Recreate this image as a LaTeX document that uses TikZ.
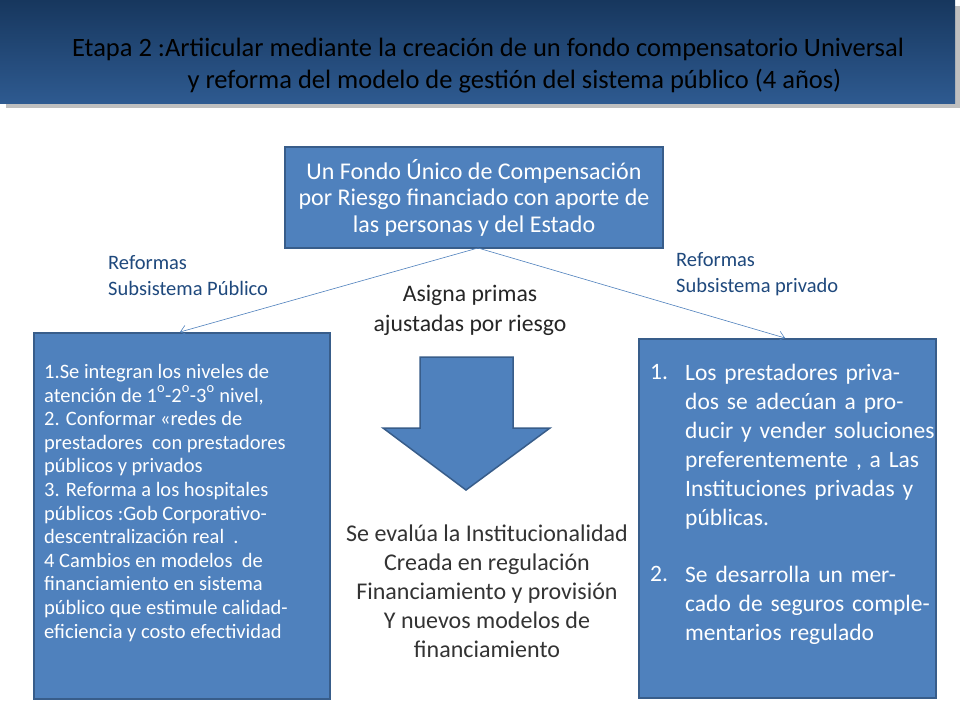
\documentclass[tikz,border=0pt]{standalone}
\usepackage{fontspec}
\setmainfont{Carlito}
\usetikzlibrary{arrows.meta,shadows}
\definecolor{boxblue}{HTML}{4F81BD}
\definecolor{boxedge}{HTML}{385D8A}
\definecolor{hdrA}{HTML}{17375E}
\definecolor{hdrB}{HTML}{2E5A90}
\definecolor{lbl}{HTML}{1F497D}
\begin{document}
\begin{tikzpicture}[x=1pt,y=-1pt,
  bluebox/.style={draw=boxedge,line width=1.5pt,fill=boxblue,text=white,inner sep=0pt},
  conn/.style={draw=boxblue,line width=0.6pt,-{Straight Barb[length=6pt,width=10pt]}},
  lab/.style={text=lbl,font=\fontsize{20.5}{26}\selectfont,align=left,anchor=north west,inner sep=0pt},
  dark/.style={text=black!85,font=\fontsize{23.7}{30}\selectfont,align=center,inner sep=0pt},
  ritem/.style={text=white,font=\fontsize{23.5}{29}\selectfont,align=left,anchor=north west,inner sep=0pt,text width=250pt}]
\useasboundingbox (0,0) rectangle (960,720);
\fill[white] (0,0) rectangle (960,720);
% header
\fill[black!25] (6,6) rectangle (960,108);
\shade[top color=hdrA,bottom color=hdrB] (0,0) rectangle (955,103);
\node[text=black,font=\fontsize{26.5}{32}\selectfont,align=center] (title) at (488,66)
 {Etapa 2 :Artiicular mediante la creación de un fondo compensatorio Universal\\
  \hspace*{2em}y reforma del modelo de gestión del sistema público (4 años)};
% top box
\node[bluebox,minimum width=378,minimum height=101,font=\fontsize{24}{26.5}\selectfont,align=center] (fondo) at (474,197.5)
 {Un Fondo Único de Compensación\\por Riesgo financiado con aporte de\\las personas y del Estado};
% left box
\node[bluebox,minimum width=296,minimum height=366,anchor=north west] (izq) at (33,332) {};
\node[text=white,font=\fontsize{20.5}{23.6}\selectfont,align=left,anchor=north west,inner sep=0pt] (izqt) at (44,364)
 {1.Se integran los niveles de\\
  atención de 1\raisebox{0.2ex}{\textsuperscript{\Large o}}-2\raisebox{0.2ex}{\textsuperscript{\Large o}}-3\raisebox{0.2ex}{\textsuperscript{\Large o}} nivel,\\
  2. Conformar «redes de\\
  prestadores \ con prestadores\\
  públicos y privados\\
  3. Reforma a los hospitales\\
  públicos :Gob Corporativo-\\
  descentralización real \ .\\
  4 Cambios en modelos \ de\\
  financiamiento en sistema\\
  público que estimule calidad-\\
  eficiencia y costo efectividad};
% right box
\node[bluebox,minimum width=297,minimum height=359,anchor=north west] (der) at (638,338) {};
\node[ritem,text width=30pt] (n1) at (650,364) {1.};
\node[ritem] (t1) at (685,364) {\raggedright Los prestadores privados se adecúan a producir y vender soluciones preferentemente , a Las Instituciones privadas y públicas.};
\node[ritem,text width=30pt] (n2) at (650,566) {2.};
\node[ritem] (t2) at (685,566) {\raggedright Se desarrolla un mercado de seguros complementarios regulado};
% connectors
\coordinate (src) at (478,248);
\draw[conn] (src) -- (180,332);
\draw[conn] (src) -- (785,338);
% labels
\node[lab] (lpub) at (108,255) {Reformas\\Subsistema Público};
\node[lab] (lpriv) at (676,252) {Reformas\\Subsistema privado};
\node[dark] (asigna) at (470,310) {Asigna primas\\ajustadas por riesgo};
% big arrow
\draw[bluebox] (420,357) -- (513,357) -- (513,428) -- (550,428) -- (466,490) -- (383,428) -- (420,428) -- cycle;
\node[dark,text=black!80,font=\fontsize{24}{29}\selectfont] (eval) at (487,591) {Se evalúa la Institucionalidad\\Creada en regulación\\Financiamiento y provisión\\Y nuevos modelos de\\financiamiento};
\end{tikzpicture}
\end{document}
